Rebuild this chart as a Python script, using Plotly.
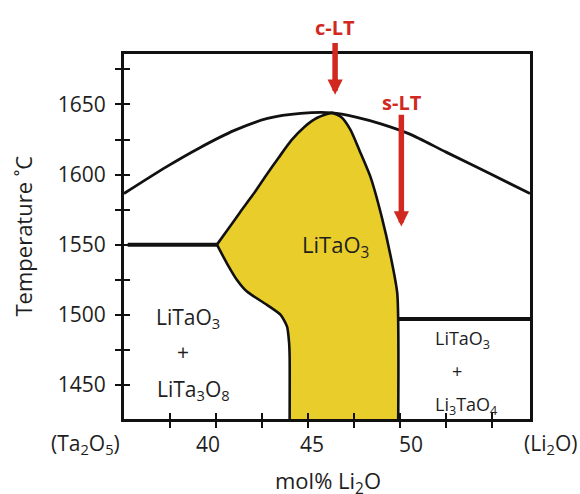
import plotly.graph_objects as go

# ---------------- data ----------------
# liquidus curve
liq_x = [35.0, 37.3, 39.1, 41.0, 42.8, 44.6, 46.3, 47.6, 49.0, 50.5, 52.5, 54.9, 57.06]
liq_T = [1586.5, 1605.5, 1619.0, 1631.5, 1640.0, 1643.6, 1644.0, 1641.0, 1636.0, 1629.0, 1616.0, 1600.5, 1586.5]

# LiTaO3 single-phase field: lower-left boundary (bottom -> 1550 corner)
lt_left_x = [44.0, 44.0, 43.97, 43.86, 43.5, 42.77, 41.68, 41.14, 40.59, 40.05]
lt_left_T = [1425.6, 1470.0, 1480.0, 1491.5, 1500.0, 1507.0, 1516.5, 1524.8, 1536.7, 1550.0]

# LiTaO3 field: corner -> apex -> right boundary -> bottom
lt_right_x = [40.05, 40.6, 41.3, 42.0, 42.7, 43.4, 44.1, 44.8, 45.5, 46.3, 46.8, 47.3, 47.8, 48.4, 49.0, 49.5, 49.85, 49.9]
lt_right_T = [1550.0, 1560.0, 1573.0, 1585.5, 1599.0, 1612.0, 1624.5, 1634.0, 1640.5, 1644.0, 1641.0, 1632.0, 1617.0, 1598.0, 1570.0, 1541.0, 1515.0, 1425.6]

# eutectic / peritectic horizontals
eut_left_x = [35.2, 40.05]
eut_left_T = [1550.0, 1550.0]
eut_right_x = [49.85, 57.06]
eut_right_T = [1497.0, 1497.0]

# axes
x_range = [35.0, 57.06]
y_range = [1425.6, 1686.0]
x_tick_marks = [37.5, 40, 42.5, 45, 47.5, 50, 52.5, 55]
y_tick_marks = [1450, 1475, 1500, 1525, 1550, 1575, 1600, 1625, 1650, 1675]
y_tick_text = ["1450", "", "1500", "", "1550", "", "1600", "", "1650", ""]
x_label_text = ["(Ta<sub>2</sub>O<sub>5</sub>)", "40", "45", "50", "(Li<sub>2</sub>O)"]
x_label_pos = [32.92, 39.54, 45.22, 50.6, 58.18]

# arrows (composition, tail T, tip T) and their labels
arrow_names = ["c-LT", "s-LT"]
arrow_x = [46.47, 50.07]
arrow_tail_T = [1695.0, 1643.7]
arrow_tip_T = [1657.0, 1563.0]
arrow_label_x = [46.44, 50.09]
arrow_label_T = [1704.6, 1651.2]

# phase field labels
phase_text = [
    "LiTaO<sub>3</sub>",
    "LiTaO<sub>3</sub>", "+", "LiTa<sub>3</sub>O<sub>8</sub>",
    "LiTaO<sub>3</sub>", "+", "Li<sub>3</sub>TaO<sub>4</sub>",
]
phase_x = [46.5, 38.5, 38.2, 38.75, 53.4, 53.08, 53.6]
phase_T = [1549.0, 1498.0, 1473.5, 1446.0, 1482.5, 1460.0, 1435.5]
phase_size = [22, 21, 21, 21, 18, 18, 18]

# ---------------- styling ----------------
FONT = "Open Sans"
BLACK = "#111111"
TXT = "#1e1e1e"
YELLOW = "#E9CE2B"
RED = "#D1291F"


def xpaper(v):
    return (v - x_range[0]) / (x_range[1] - x_range[0])


def ypaper(v):
    return (v - y_range[0]) / (y_range[1] - y_range[0])


fig = go.Figure()

# yellow fill
fig.add_trace(go.Scatter(
    x=lt_left_x + lt_right_x[1:], y=lt_left_T + lt_right_T[1:],
    mode="lines", fill="toself", fillcolor=YELLOW,
    line=dict(width=0, color=YELLOW), hoverinfo="skip"))

# outlines
fig.add_trace(go.Scatter(x=lt_left_x, y=lt_left_T, mode="lines",
                         line=dict(color=BLACK, width=2.6, shape="spline", smoothing=0.6)))
fig.add_trace(go.Scatter(x=lt_right_x, y=lt_right_T, mode="lines",
                         line=dict(color=BLACK, width=2.6, shape="spline", smoothing=0.6)))
fig.add_trace(go.Scatter(x=liq_x, y=liq_T, mode="lines",
                         line=dict(color=BLACK, width=2.8, shape="spline", smoothing=0.8)))
fig.add_trace(go.Scatter(x=eut_left_x, y=eut_left_T, mode="lines",
                         line=dict(color=BLACK, width=4)))
fig.add_trace(go.Scatter(x=eut_right_x, y=eut_right_T, mode="lines",
                         line=dict(color=BLACK, width=4)))

# invisible trace for the overlay (inside-tick) axes
fig.add_trace(go.Scatter(x=[x_range[0]], y=[y_range[0]], xaxis="x2", yaxis="y2",
                         mode="markers", marker=dict(opacity=0), hoverinfo="skip"))

annotations = []
# x tick labels (paper coordinates so the end labels outside the range are shown)
for t, xp in zip(x_label_text, x_label_pos):
    annotations.append(dict(x=xpaper(xp), y=0, xref="paper", yref="paper", text=t,
                            showarrow=False, xanchor="center", yanchor="middle", yshift=-25,
                            font=dict(family=FONT, size=21, color=TXT)))
# x title
annotations.append(dict(x=xpaper(46.1), y=0, xref="paper", yref="paper", text="mol% Li<sub>2</sub>O",
                        showarrow=False, xanchor="center", yanchor="middle", yshift=-63,
                        font=dict(family=FONT, size=22, color=TXT)))
# y title
annotations.append(dict(x=0, y=0.5, xref="paper", yref="paper", text="Temperature ˚C",
                        showarrow=False, textangle=-90, xanchor="center", yanchor="middle",
                        xshift=-102, font=dict(family=FONT, size=22, color=TXT)))
# arrows
for xa, t0, t1 in zip(arrow_x, arrow_tail_T, arrow_tip_T):
    annotations.append(dict(x=xa, y=t1, ax=xa, ay=t0, xref="x", yref="y", axref="x", ayref="y",
                            text="", showarrow=True, arrowhead=2, arrowsize=0.55,
                            arrowwidth=5.5, arrowcolor=RED, standoff=0, startstandoff=0))
for name, xl, tl in zip(arrow_names, arrow_label_x, arrow_label_T):
    annotations.append(dict(x=xpaper(xl), y=ypaper(tl), xref="paper", yref="paper",
                            text="<b>" + name + "</b>",
                            showarrow=False, xanchor="center", yanchor="middle",
                            font=dict(family=FONT, size=20, color=RED)))
# phase labels
for t, xp, tp, s in zip(phase_text, phase_x, phase_T, phase_size):
    annotations.append(dict(x=xp, y=tp, xref="x", yref="y", text=t, showarrow=False,
                            xanchor="center", yanchor="middle",
                            font=dict(family=FONT, size=s, color=TXT)))

fig.update_layout(
    width=580, height=494,
    margin=dict(l=124, r=50, t=53.5, b=75),
    paper_bgcolor="white", plot_bgcolor="white",
    showlegend=False,
    font=dict(family=FONT, color=TXT),
    annotations=annotations,
    xaxis=dict(range=x_range, showgrid=False, zeroline=False,
               showline=True, linecolor=BLACK, linewidth=3, mirror=True,
               tickmode="array", tickvals=x_tick_marks, showticklabels=False,
               ticks="outside", ticklen=6, tickwidth=2, tickcolor=BLACK),
    yaxis=dict(range=y_range, showgrid=False, zeroline=False,
               showline=True, linecolor=BLACK, linewidth=3, mirror=True,
               tickmode="array", tickvals=y_tick_marks, ticktext=y_tick_text,
               ticks="outside", ticklen=6, tickwidth=2, tickcolor=BLACK,
               ticklabelstandoff=5,
               tickfont=dict(family=FONT, size=21, color=TXT)),
    xaxis2=dict(overlaying="x", matches="x", anchor="y", side="bottom",
                range=x_range, showgrid=False, zeroline=False, showline=False,
                tickmode="array", tickvals=x_tick_marks, showticklabels=False,
                ticks="inside", ticklen=6, tickwidth=2, tickcolor=BLACK),
    yaxis2=dict(overlaying="y", matches="y", anchor="x", side="left",
                range=y_range, showgrid=False, zeroline=False, showline=False,
                tickmode="array", tickvals=y_tick_marks, showticklabels=False,
                ticks="inside", ticklen=6, tickwidth=2, tickcolor=BLACK),
)

fig.write_html("out.html", config={"displayModeBar": False},
               post_script="document.body.style.margin='0px';document.body.style.padding='0px';")
